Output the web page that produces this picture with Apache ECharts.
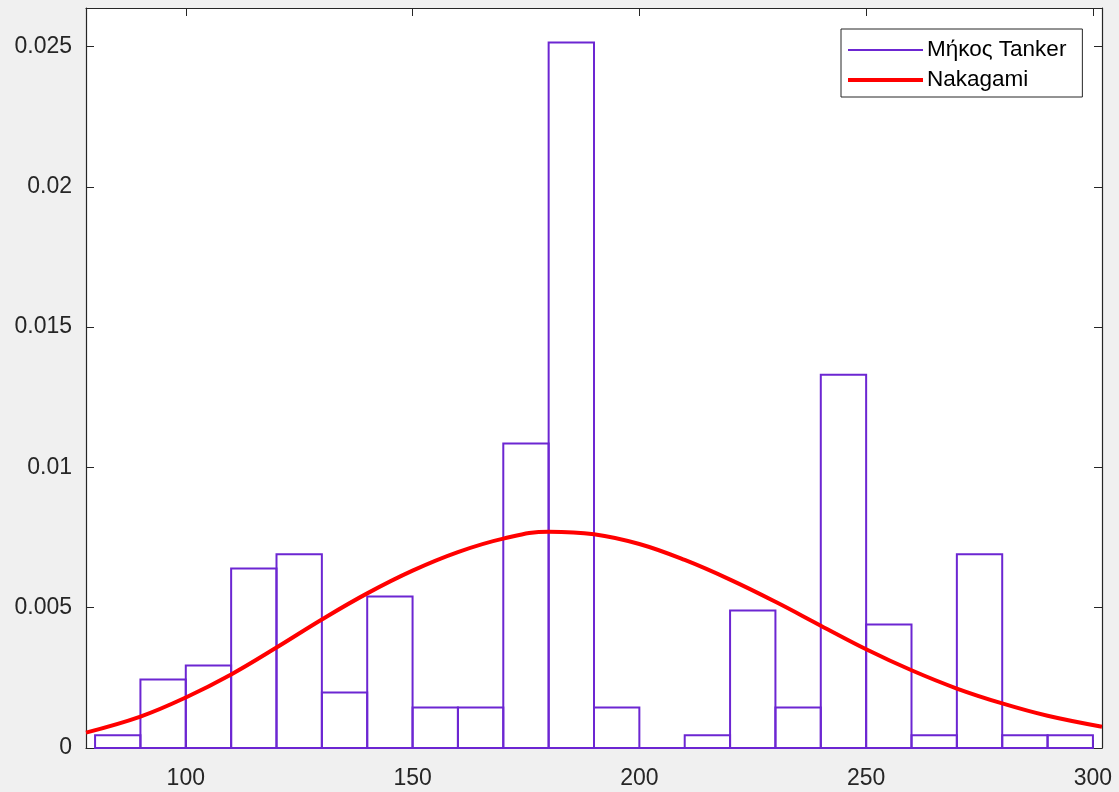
<!DOCTYPE html>
<html>
<head>
<meta charset="utf-8">
<script src="https://cdn.jsdelivr.net/npm/echarts@6/dist/echarts.min.js"></script>
<style>
  html, body { margin: 0; padding: 0; background: #f0f0f0; }
  #main { width: 1119px; height: 792px; }
</style>
</head>
<body>
<div id="main"></div>
<script>
// histogram bins (left edge, right edge) and density heights
const binLeft = [80, 90, 100, 110, 120, 130, 140, 150, 160, 170, 180, 190, 200, 210, 220, 230, 240, 250, 260, 270, 280, 290]
const binRight = [90, 100, 110, 120, 130, 140, 150, 160, 170, 180, 190, 200, 210, 220, 230, 240, 250, 260, 270, 280, 290, 300]
const density = [0.00045, 0.00244, 0.00294, 0.0064, 0.0069, 0.00198, 0.0054, 0.00144, 0.00144, 0.01085, 0.02514, 0.00144,
  0, 0.00045, 0.0049, 0.00144, 0.0133, 0.0044, 0.00045, 0.0069, 0.00045, 0.00045]

// fitted Nakagami curve
const fitX = [78, 90, 100, 110, 120, 130, 140, 150, 160, 170, 180, 190, 200, 210, 220, 230, 240, 250, 260, 270, 280, 290, 302]
const fitY = [0.00055, 0.00112, 0.0018, 0.00262, 0.00358, 0.00458, 0.00551, 0.00632, 0.00698, 0.00746, 0.00771, 0.00762,
  0.00727, 0.0067, 0.006, 0.00521, 0.00436, 0.00352, 0.00277, 0.00212, 0.00159, 0.00115, 0.00076]

const xTicks = [100, 150, 200, 250, 300]
const yTicks = [0, 0.005, 0.01, 0.015, 0.02, 0.025]

const histName = 'Μήκος Tanker'
const fitName = 'Nakagami'
const purple = '#6c26d2'
const axisColor = '#262626'
const font = 'Liberation Sans, Arial, sans-serif'

let histData = binLeft.map((l, i) => [l, binRight[i], density[i]])
let fitData = fitX.map((x, i) => [x, fitY[i]])

function xAxisOf (pos, labels) {
  return {
    type: 'value',
    position: pos,
    min: 78,
    max: 302,
    axisLine: { show: true, onZero: false, lineStyle: { color: axisColor, width: 1.2 } },
    axisTick: { show: true, inside: true, length: 8, customValues: xTicks, lineStyle: { color: axisColor } },
    axisLabel: {
      show: labels,
      customValues: xTicks,
      color: axisColor,
      fontSize: 23,
      fontFamily: font,
      margin: 19
    },
    splitLine: { show: false }
  }
}

function yAxisOf (pos, labels) {
  return {
    type: 'value',
    position: pos,
    min: 0,
    max: 0.02637,
    axisLine: { show: true, onZero: false, lineStyle: { color: axisColor, width: 1.2 } },
    axisTick: { show: true, inside: true, length: 8, customValues: yTicks, lineStyle: { color: axisColor } },
    axisLabel: {
      show: labels,
      customValues: yTicks,
      color: axisColor,
      fontSize: 23,
      fontFamily: font,
      margin: 14
    },
    splitLine: { show: false }
  }
}

let chart = echarts.init(document.getElementById('main'))
let option = {
  animation: false,
  backgroundColor: '#f0f0f0',
  grid: {
    left: 86,
    top: 8,
    right: 17,
    bottom: 44,
    show: true,
    backgroundColor: '#ffffff',
    borderWidth: 0
  },
  legend: {
    orient: 'vertical',
    left: 841,
    top: 29,
    padding: [9, 16, 5, 7],
    itemWidth: 75,
    itemHeight: 14,
    itemGap: 6,
    backgroundColor: '#ffffff',
    borderColor: axisColor,
    borderWidth: 1,
    borderRadius: 0,
    textStyle: { fontSize: 22.5, fontFamily: font, color: '#000', lineHeight: 24, padding: [0, 0, 0, -1] },
    data: [
      { name: histName, icon: 'path://M0,0H75V2H0Z' },
      { name: fitName, icon: 'path://M0,0H75V4H0Z' }
    ]
  },
  xAxis: [xAxisOf('bottom', true), xAxisOf('top', false)],
  yAxis: [yAxisOf('left', true), yAxisOf('right', false)],
  series: [
    {
      name: histName,
      type: 'custom',
      color: purple,
      xAxisIndex: 0,
      yAxisIndex: 0,
      data: histData,
      renderItem: function (params, api) {
        let p0 = api.coord([api.value(0), 0])
        let p1 = api.coord([api.value(1), api.value(2)])
        return {
          type: 'rect',
          shape: { x: p0[0], y: p1[1], width: p1[0] - p0[0], height: p0[1] - p1[1] },
          style: { fill: 'none', stroke: purple, lineWidth: 2 }
        }
      }
    },
    {
      name: fitName,
      type: 'line',
      color: '#ff0000',
      xAxisIndex: 0,
      yAxisIndex: 0,
      data: fitData,
      smooth: 0.4,
      showSymbol: false,
      symbol: 'none',
      lineStyle: { color: '#ff0000', width: 4 }
    }
  ]
}
chart.setOption(option)
</script>
</body>
</html>
